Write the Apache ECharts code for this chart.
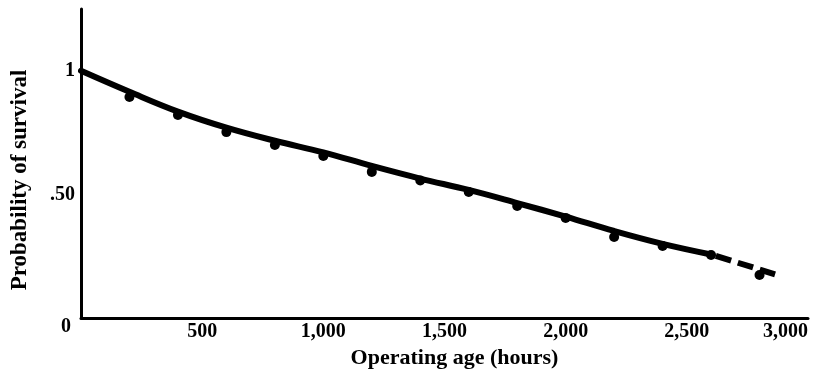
<!DOCTYPE html>
<html>
<head>
<meta charset="utf-8">
<script src="https://cdn.jsdelivr.net/npm/echarts@6/dist/echarts.min.js"></script>
<style>
  html, body { margin: 0; padding: 0; background: #ffffff; }
  #chart { width: 819px; height: 385px; }
</style>
</head>
<body>
<div id="chart"></div>
<script>
// Observed survival at each operating age (hours)
const ageHours = [200, 400, 600, 800, 1000, 1200, 1400, 1600, 1800, 2000, 2200, 2400, 2600, 2800];
const observedSurvival = [0.894, 0.821, 0.752, 0.700, 0.655, 0.591, 0.556, 0.510, 0.453, 0.405, 0.328, 0.291, 0.255, 0.174];

// Fitted survival curve over the observed range (solid)
const fitAge = [0, 200, 400, 600, 800, 1000, 1200, 1400, 1600, 1800, 2000, 2200, 2400, 2600];
const fitSurvival = [1.0, 0.915, 0.835, 0.770, 0.717, 0.670, 0.615, 0.564, 0.518, 0.465, 0.410, 0.352, 0.300, 0.257];

// Extrapolated tail of the curve (dashed)
const extAge = [2600, 2880];
const extSurvival = [0.257, 0.172];

// Axis tick labels
const xTickValues = [0, 500, 1000, 1500, 2000, 2500, 3000];
const xTickLabels = ['', '500', '1,000', '1,500', '2,000', '2,500', '3,000'];
const yTickValues = [0, 0.5, 1];
const yTickLabels = ['0', '.50', '1'];

const FONT = '"Liberation Serif", "DejaVu Serif", serif';

const pair = (xs, ys) => xs.map((x, i) => [x, ys[i]]);

const chart = echarts.init(document.getElementById('chart'), null, { renderer: 'canvas' });

chart.setOption({
  animation: false,
  backgroundColor: '#ffffff',
  grid: { left: 81, right: 11, top: 9, bottom: 67, outerBoundsMode: 'none' },
  xAxis: {
    type: 'value',
    min: 0,
    max: 3000,
    interval: 500,
    name: 'Operating age (hours)',
    nameLocation: 'middle',
    nameGap: 26,
    nameTextStyle: {
      fontFamily: FONT, fontWeight: 'bold', fontSize: 22, color: '#000',
      padding: [0, 0, 0, 20]
    },
    axisLine: { show: true, onZero: false, lineStyle: { color: '#000', width: 3 } },
    axisTick: { show: false },
    splitLine: { show: false },
    axisLabel: {
      margin: 4,
      fontFamily: FONT, fontWeight: 'bold', fontSize: 20, color: '#000',
      alignMaxLabel: 'right',
      formatter: v => {
        const i = xTickValues.indexOf(v);
        return i >= 0 ? xTickLabels[i] : '';
      }
    }
  },
  yAxis: {
    type: 'value',
    min: 0,
    max: 1.25,
    interval: 0.25,
    axisLine: { show: true, lineStyle: { color: '#000', width: 3 } },
    axisTick: { show: false },
    splitLine: { show: false },
    axisLabel: {
      margin: 6,
      fontFamily: FONT, fontWeight: 'bold', fontSize: 20, color: '#000',
      formatter: v => {
        const i = yTickValues.findIndex(t => Math.abs(t - v) < 1e-9);
        if (i < 0) return '';
        return v === 0 ? '{z|' + yTickLabels[i] + '}' : yTickLabels[i];
      },
      rich: {
        z: { fontFamily: FONT, fontWeight: 'bold', fontSize: 20, color: '#000', padding: [18, 4, 0, 0] }
      }
    }
  },
  graphic: [{
    type: 'text',
    x: 20,
    y: 180,
    rotation: Math.PI / 2,
    style: {
      text: 'Probability of survival',
      fontFamily: FONT, fontWeight: 'bold', fontSize: 23, fill: '#000',
      align: 'center', verticalAlign: 'middle'
    }
  }],
  series: [
    {
      name: 'Fitted curve',
      type: 'line',
      data: pair(fitAge, fitSurvival),
      smooth: 0.4,
      showSymbol: false,
      lineStyle: { color: '#000', width: 6, cap: 'round' },
      z: 3
    },
    {
      name: 'Extrapolation',
      type: 'line',
      data: pair(extAge, extSurvival),
      showSymbol: false,
      lineStyle: { color: '#000', width: 6, type: [16, 7], dashOffset: -5 },
      z: 3
    },
    {
      name: 'Observed',
      type: 'scatter',
      data: pair(ageHours, observedSurvival),
      symbol: 'circle',
      symbolSize: 10,
      itemStyle: { color: '#000', opacity: 1 },
      z: 4
    }
  ]
});
</script>
</body>
</html>
